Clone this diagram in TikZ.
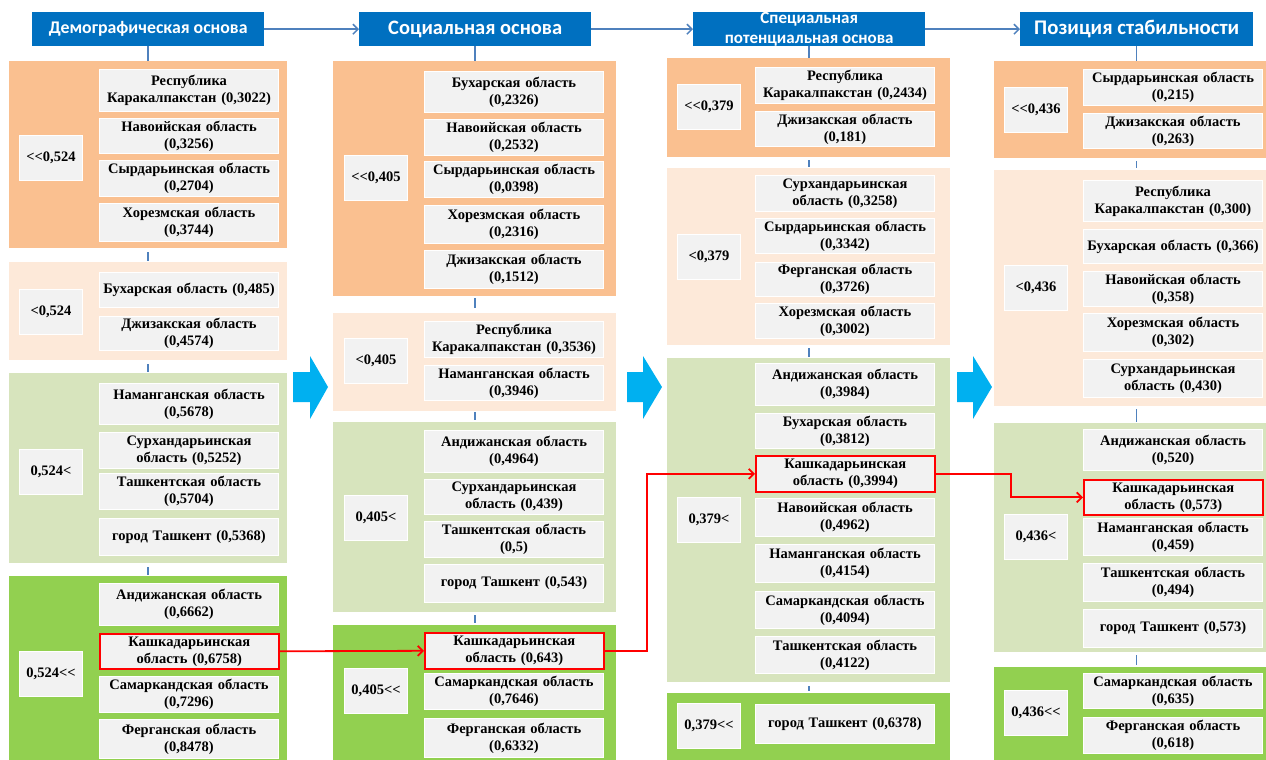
\documentclass[tikz,border=0pt]{standalone}
\usepackage{fontspec}
\setmainfont{Liberation Serif}
\newfontfamily\hdfont{Carlito}
\usetikzlibrary{arrows.meta}
\definecolor{hdblue}{HTML}{0070C0}
\definecolor{chev}{HTML}{00B0F0}
\definecolor{lnblue}{HTML}{4F81BD}
\definecolor{lvlA}{HTML}{FAC090}
\definecolor{lvlB}{HTML}{FDE9D9}
\definecolor{lvlC}{HTML}{D7E4BD}
\definecolor{lvlD}{HTML}{92D050}
\definecolor{boxgray}{HTML}{F2F2F2}

\begin{document}
\begin{tikzpicture}[
    x=1pt, y=-1pt,
    grp/.style={anchor=north west, inner sep=0pt},
    head/.style={fill=hdblue, anchor=north west, minimum width=232pt, minimum height=34pt,
      inner sep=0pt, text=white, align=center},
    lbl/.style={fill=boxgray, draw=white, line width=1pt, anchor=north west, minimum width=63pt,
      minimum height=45pt, inner sep=0pt, font=\bfseries\fontsize{14.5}{17}\selectfont},
    item/.style={fill=boxgray, draw=white, line width=1pt, anchor=north west, text width=177pt,
      inner sep=1pt, align=center, font=\bfseries\fontsize{14.5}{17}\selectfont},
    hilite/.style={item, draw=red, line width=1.6pt},
    link/.style={draw=lnblue, line width=1.5pt},
    headarrow/.style={link, -{Straight Barb[length=5pt,width=10pt]}},
    trail/.style={draw=red, line width=1.8pt, -{Straight Barb[length=5pt,width=10pt]}}
    ]
    \useasboundingbox (0,0) rectangle (1266,760);
    % headers
    \node[head, font=\hdfont\bfseries\fontsize{17.8}{20}\selectfont] (h1) at (32,12) {Демографическая основа};
    \node[head, font=\hdfont\bfseries\fontsize{20.5}{22}\selectfont] (h2) at (359,12) {Социальная основа};
    \node[head, font=\hdfont\bfseries\fontsize{17}{20}\selectfont] (h3) at (693,12) {Специальная\\потенциальная основа};
    \node[head, font=\hdfont\bfseries\fontsize{20.8}{22}\selectfont, minimum width=233pt] (h4) at (1020,12) {Позиция стабильности};
    \draw[headarrow] (h1.east) -- (h2.west);
    \draw[headarrow] (h2.east) -- (h3.west);
    \draw[headarrow] (h3.east) -- (h4.west);

    % column 1
    \node[grp, fill=lvlA, minimum width=278pt, minimum height=187pt] (g11) at (9,61) {};
    \node[grp, fill=lvlB, minimum width=278pt, minimum height=98pt] (g12) at (9,262) {};
    \node[grp, fill=lvlC, minimum width=278pt, minimum height=190pt] (g13) at (9,373) {};
    \node[grp, fill=lvlD, minimum width=278pt, minimum height=184pt] (g14) at (9,576) {};
    \draw[link] (h1.south) -- (h1.south |- g11.north);
    \draw[link, shorten <=4pt, shorten >=1pt] (h1.south |- g11.south) -- (h1.south |- g12.north);
    \draw[link, shorten <=4pt, shorten >=1pt] (h1.south |- g12.south) -- (h1.south |- g13.north);
    \draw[link, shorten <=4pt, shorten >=1pt] (h1.south |- g13.south) -- (h1.south |- g14.north);
    \node[lbl] (l11) at (19,135) {<\kern0pt<0,524};
    \node[lbl] (l12) at (19,289) {<0,524};
    \node[lbl] (l13) at (19,449) {0,524<};
    \node[lbl] (l14) at (19,651) {0,524<\kern0pt<};
    \node[item, minimum height=42pt] (d11a) at (99,69) {Республика\\Каракалпакстан (0,3022)};
    \node[item, minimum height=35pt] (d11b) at (99,118) {Навоийская область\\(0,3256)};
    \node[item, minimum height=36pt] (d11c) at (99,160) {Сырдарьинская область\\(0,2704)};
    \node[item, minimum height=38pt] (d11d) at (99,203) {Хорезмская область\\(0,3744)};
    \node[item, minimum height=35pt] (d12a) at (99,272) {Бухарская область (0,485)};
    \node[item, minimum height=34pt] (d12b) at (99,316) {Джизакская область\\(0,4574)};
    \node[item, minimum height=41pt] (d13a) at (99,383) {Наманганская область\\(0,5678)};
    \node[item, minimum height=36pt] (d13b) at (99,432) {Сурхандарьинская\\область (0,5252)};
    \node[item, minimum height=36pt] (d13c) at (99,473) {Ташкентская область\\(0,5704)};
    \node[item, minimum height=37pt] (d13d) at (99,518) {город Ташкент (0,5368)};
    \node[item, minimum height=42pt] (d14a) at (99,583) {Андижанская область\\(0,6662)};
    \node[hilite, minimum height=35pt] (d14b) at (99,633) {Кашкадарьинская\\область (0,6758)};
    \node[item, minimum height=36pt] (d14c) at (99,676) {Самаркандская область\\(0,7296)};
    \node[item, minimum height=39pt] (d14d) at (99,719) {Ферганская область\\(0,8478)};

    % column 2
    \node[grp, fill=lvlA, minimum width=283pt, minimum height=235pt] (g21) at (333,61) {};
    \node[grp, fill=lvlB, minimum width=283pt, minimum height=98pt] (g22) at (333,313) {};
    \node[grp, fill=lvlC, minimum width=283pt, minimum height=190pt] (g23) at (333,422) {};
    \node[grp, fill=lvlD, minimum width=283pt, minimum height=135pt] (g24) at (333,625) {};
    \draw[link] (h2.south) -- (h2.south |- g21.north);
    \draw[link, shorten <=2pt, shorten >=5pt] (h2.south |- g21.south) -- (h2.south |- g22.north);
    \draw[link, shorten <=1pt, shorten >=2pt] (h2.south |- g22.south) -- (h2.south |- g23.north);
    \draw[link, shorten <=3pt, shorten >=2pt] (h2.south |- g23.south) -- (h2.south |- g24.north);
    \node[lbl] (l21) at (344,155) {<\kern0pt<0,405};
    \node[lbl] (l22) at (344,338) {<0,405};
    \node[lbl] (l23) at (344,495) {0,405<};
    \node[lbl] (l24) at (344,668) {0,405<\kern0pt<};
    \node[item, minimum height=41pt] (d21a) at (424,71) {Бухарская область\\(0,2326)};
    \node[item, minimum height=36pt] (d21b) at (424,119) {Навоийская область\\(0,2532)};
    \node[item, minimum height=36pt] (d21c) at (424,161) {Сырдарьинская область\\(0,0398)};
    \node[item, minimum height=38pt] (d21d) at (424,205) {Хорезмская область\\(0,2316)};
    \node[item, minimum height=38pt] (d21e) at (424,250) {Джизакская область\\(0,1512)};
    \node[item, minimum height=36pt] (d22a) at (424,321) {Республика\\Каракалпакстан (0,3536)};
    \node[item, minimum height=35pt] (d22b) at (424,365) {Наманганская область\\(0,3946)};
    \node[item, minimum height=42pt] (d23a) at (424,430) {Андижанская область\\(0,4964)};
    \node[item, minimum height=35pt] (d23b) at (424,479) {Сурхандарьинская\\область (0,439)};
    \node[item, minimum height=36pt] (d23c) at (424,521) {Ташкентская область\\(0,5)};
    \node[item, minimum height=38pt] (d23d) at (424,564) {город Ташкент (0,543)};
    \node[hilite, minimum height=36pt] (d24a) at (424,632) {Кашкадарьинская\\область (0,643)};
    \node[item, minimum height=36pt] (d24b) at (424,673) {Самаркандская область\\(0,7646)};
    \node[item, minimum height=39pt] (d24c) at (424,718) {Ферганская область\\(0,6332)};

    % column 3
    \node[grp, fill=lvlA, minimum width=283pt, minimum height=99pt] (g31) at (667,58) {};
    \node[grp, fill=lvlB, minimum width=283pt, minimum height=177pt] (g32) at (667,168) {};
    \node[grp, fill=lvlC, minimum width=283pt, minimum height=324pt] (g33) at (667,358) {};
    \node[grp, fill=lvlD, minimum width=283pt, minimum height=67pt] (g34) at (667,693) {};
    \draw[link] (h3.south) -- (h3.south |- g31.north);
    \draw[link, shorten <=3pt, shorten >=1pt] (h3.south |- g31.south) -- (h3.south |- g32.north);
    \draw[link, shorten <=3pt, shorten >=1pt] (h3.south |- g32.south) -- (h3.south |- g33.north);
    \draw[link, shorten <=4pt, shorten >=2pt] (h3.south |- g33.south) -- (h3.south |- g34.north);
    \node[lbl] (l31) at (677,84) {<\kern0pt<0,379};
    \node[lbl] (l32) at (677,234) {<0,379};
    \node[lbl] (l33) at (677,497) {0,379<};
    \node[lbl] (l34) at (677,703) {0,379<\kern0pt<};
    \node[item, minimum height=36pt] (d31a) at (755,67) {Республика\\Каракалпакстан (0,2434)};
    \node[item, minimum height=35pt] (d31b) at (755,111) {Джизакская область\\(0,181)};
    \node[item, minimum height=36pt] (d32a) at (755,175) {Сурхандарьинская\\область (0,3258)};
    \node[item, minimum height=35pt] (d32b) at (755,218) {Сырдарьинская область\\(0,3342)};
    \node[item, minimum height=34pt] (d32c) at (755,262) {Ферганская область\\(0,3726)};
    \node[item, minimum height=35pt] (d32d) at (755,303) {Хорезмская область\\(0,3002)};
    \node[item, minimum height=42pt] (d33a) at (755,363) {Андижанская область\\(0,3984)};
    \node[item, minimum height=35pt] (d33b) at (755,413) {Бухарская область\\(0,3812)};
    \node[hilite, minimum height=36pt] (d33c) at (755,455) {Кашкадарьинская\\область (0,3994)};
    \node[item, minimum height=38pt] (d33d) at (755,498) {Навоийская область\\(0,4962)};
    \node[item, minimum height=38pt] (d33e) at (755,544) {Наманганская область\\(0,4154)};
    \node[item, minimum height=37pt] (d33f) at (755,591) {Самаркандская область\\(0,4094)};
    \node[item, minimum height=37pt] (d33g) at (755,636) {Ташкентская область\\(0,4122)};
    \node[item, minimum height=39pt] (d34a) at (755,704) {город Ташкент (0,6378)};

    % column 4
    \node[grp, fill=lvlA, minimum width=272pt, minimum height=97pt] (g41) at (994,61) {};
    \node[grp, fill=lvlB, minimum width=272pt, minimum height=236pt] (g42) at (994,170) {};
    \node[grp, fill=lvlC, minimum width=272pt, minimum height=229pt] (g43) at (994,423) {};
    \node[grp, fill=lvlD, minimum width=272pt, minimum height=93pt] (g44) at (994,667) {};
    \draw[link] (h4.south) -- (h4.south |- g41.north);
    \draw[link, shorten <=3pt, shorten >=2pt] (h4.south |- g41.south) -- (h4.south |- g42.north);
    \draw[link, shorten <=3pt, shorten >=1pt] (h4.south |- g42.south) -- (h4.south |- g43.north);
    \draw[link, shorten <=3pt, shorten >=2pt] (h4.south |- g43.south) -- (h4.south |- g44.north);
    \node[lbl] (l41) at (1004,87) {<\kern0pt<0,436};
    \node[lbl] (l42) at (1004,265) {<0,436};
    \node[lbl] (l43) at (1004,514) {0,436<};
    \node[lbl] (l44) at (1004,690) {0,436<\kern0pt<};
    \node[item, minimum height=36pt] (d41a) at (1083,69) {Сырдарьинская область\\(0,215)};
    \node[item, minimum height=35pt] (d41b) at (1083,113) {Джизакская область\\(0,263)};
    \node[item, minimum height=41pt] (d42a) at (1083,180) {Республика\\Каракалпакстан (0,300)};
    \node[item, minimum height=34pt] (d42b) at (1083,229) {Бухарская область (0,366)};
    \node[item, minimum height=35pt] (d42c) at (1083,271) {Навоийская область\\(0,358)};
    \node[item, minimum height=38pt] (d42d) at (1083,313) {Хорезмская область\\(0,302)};
    \node[item, minimum height=38pt] (d42e) at (1083,359) {Сурхандарьинская\\область (0,430)};
    \node[item, minimum height=41pt] (d43a) at (1083,429) {Андижанская область\\(0,520)};
    \node[hilite, minimum height=35pt] (d43b) at (1083,479) {Кашкадарьинская\\область (0,573)};
    \node[item, minimum height=37pt] (d43c) at (1083,518) {Наманганская область\\(0,459)};
    \node[item, minimum height=38pt] (d43d) at (1083,563) {Ташкентская область\\(0,494)};
    \node[item, minimum height=38pt] (d43e) at (1083,609) {город Ташкент (0,573)};
    \node[item, minimum height=35pt] (d44a) at (1083,673) {Самаркандская область\\(0,635)};
    \node[item, minimum height=36pt] (d44b) at (1083,717) {Ферганская область\\(0,618)};

    % transitions
    \fill[chev] (293,372) -- (310,372) -- (310,356) -- (328,387) -- (310,419) -- (310,402) -- (293,402) -- cycle;
    \fill[chev] (627,372) -- (643,372) -- (643,356) -- (662,387) -- (643,419) -- (643,402) -- (627,402) -- cycle;
    \fill[chev] (957,372) -- (973,372) -- (973,356) -- (992,387) -- (973,419) -- (973,402) -- (957,402) -- cycle;

    % Kashkadarya path
    \draw[trail] (d14b.east) -- (d24a.west);
    \draw[trail] (d24a.east) -- ++(42,0) |- (d33c.west);
    \draw[trail] (d33c.east) -- ++(75,0) |- (d43b.west);
  \end{tikzpicture}
\end{document}
